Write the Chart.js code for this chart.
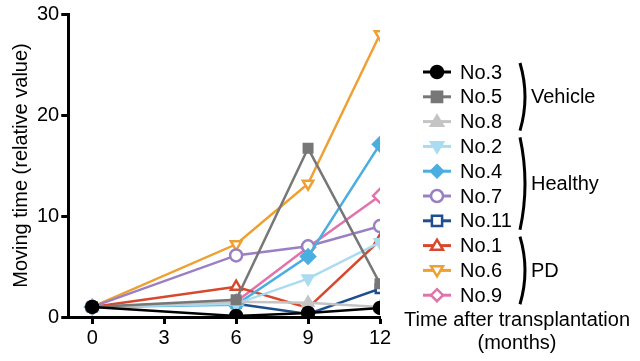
<!DOCTYPE html>
<html lang="en">
<head>
<meta charset="UTF-8">
<title>Moving time after transplantation</title>
<script src="https://cdn.jsdelivr.net/npm/chart.js"></script>
<style>
  html, body { margin: 0; padding: 0; background: #fff; }
  .chart-container { position: relative; width: 640px; height: 361px; }
</style>
</head>
<body>
<div class="chart-container"><canvas id="movingChart"></canvas></div>
<script>
// months after transplantation
const months = [0, 6, 9, 12];
const xTicks = [0, 3, 6, 9, 12];
const yTicks = [0, 10, 20, 30];

// moving time (relative value), one array per animal
const no3  = [1.0, 0.1, 0.4, 0.9];
const no5  = [1.0, 1.7, 16.7, 3.3];
const no8  = [1.0, 1.5, 1.4, 1.0];
const no2  = [1.0, 1.3, 3.8, 7.4];
const no4  = [1.0, 1.2, 6.0, 17.1];
const no7  = [1.0, 6.1, 7.0, 9.0];
const no11 = [1.0, 1.3, 0.3, 2.8];
const no1  = [1.0, 3.0, 0.9, 7.6];
const no6  = [1.0, 7.2, 13.2, 28.0];
const no9  = [1.0, 1.5, 6.9, 12.0];

const names  = ['No.3', 'No.5', 'No.8', 'No.2', 'No.4', 'No.7', 'No.11', 'No.1', 'No.6', 'No.9'];
const series = [no3, no5, no8, no2, no4, no7, no11, no1, no6, no9];
const colors = ['#000000', '#777777', '#c4c4c4', '#a9dcf0', '#4aaee0', '#9a80c2', '#1f4e8c', '#d8482c', '#efa032', '#e072ac'];
const shapes = ['circle', 'rect', 'triangle', 'triangleDown', 'diamond', 'circle', 'rect', 'triangle', 'triangleDown', 'diamond'];
const hollow = [false, false, false, false, false, true, true, true, true, true];

const groups = [
  { label: 'Vehicle', from: 0, to: 2 },
  { label: 'Healthy', from: 3, to: 6 },
  { label: 'PD', from: 7, to: 9 }
];

const FONT = "'Liberation Sans', Arial, sans-serif";

function styleOf(shape) {
  if (shape === 'triangleDown') return { pointStyle: 'triangle', rotation: 180 };
  if (shape === 'diamond') return { pointStyle: 'rectRot', rotation: 0 };
  return { pointStyle: shape, rotation: 0 };
}

const datasets = series.map((vals, i) => {
  const s = styleOf(shapes[i]);
  return {
    label: names[i],
    data: vals.map((v, k) => ({ x: months[k], y: v })),
    borderColor: colors[i],
    backgroundColor: colors[i],
    borderWidth: 2.5,
    pointStyle: s.pointStyle,
    rotation: s.rotation,
    pointRadius: shapes[i] === 'diamond' ? 7 : 6,
    pointBorderWidth: 2.5,
    pointBackgroundColor: hollow[i] ? '#ffffff' : colors[i],
    pointBorderColor: colors[i],
    tension: 0
  };
});

// draw a legend marker by hand
function drawMarker(ctx, shape, x, y, r, color, isHollow) {
  ctx.save();
  ctx.beginPath();
  if (shape === 'circle') {
    ctx.arc(x, y, r, 0, Math.PI * 2);
  } else if (shape === 'rect') {
    ctx.rect(x - r * 0.85, y - r * 0.85, r * 1.7, r * 1.7);
  } else if (shape === 'triangle') {
    ctx.moveTo(x, y - r);
    ctx.lineTo(x + r, y + r * 0.7);
    ctx.lineTo(x - r, y + r * 0.7);
    ctx.closePath();
  } else if (shape === 'triangleDown') {
    ctx.moveTo(x, y + r);
    ctx.lineTo(x + r, y - r * 0.7);
    ctx.lineTo(x - r, y - r * 0.7);
    ctx.closePath();
  } else if (shape === 'diamond') {
    ctx.moveTo(x, y - r);
    ctx.lineTo(x + r, y);
    ctx.lineTo(x, y + r);
    ctx.lineTo(x - r, y);
    ctx.closePath();
  }
  ctx.fillStyle = isHollow ? '#ffffff' : color;
  ctx.fill();
  ctx.lineWidth = 2.5;
  ctx.strokeStyle = color;
  ctx.stroke();
  ctx.restore();
}

const sideLegend = {
  id: 'sideLegend',
  afterDraw(chart) {
    const ctx = chart.ctx;
    const top = 72, step = 24.8;
    ctx.save();
    ctx.font = '20px ' + FONT;
    ctx.textBaseline = 'middle';
    ctx.fillStyle = '#000';
    names.forEach((name, i) => {
      const y = top + i * step;
      ctx.beginPath();
      ctx.moveTo(423, y);
      ctx.lineTo(451, y);
      ctx.lineWidth = 3;
      ctx.strokeStyle = colors[i];
      ctx.stroke();
      drawMarker(ctx, shapes[i], 437, y, 6, colors[i], hollow[i]);
      ctx.fillStyle = '#000';
      ctx.textAlign = 'left';
      ctx.fillText(name, 460, y + 1);
    });
    // brackets for the groups
    groups.forEach(g => {
      const y1 = top + g.from * step - 9;
      const y2 = top + g.to * step + 9;
      ctx.beginPath();
      ctx.moveTo(520, y1);
      ctx.quadraticCurveTo(530, (y1 + y2) / 2, 520, y2);
      ctx.lineWidth = 3;
      ctx.strokeStyle = '#000';
      ctx.stroke();
      ctx.textAlign = 'left';
      ctx.fillText(g.label, 531, (y1 + y2) / 2 + 1);
    });
    // x axis title, set to the right of the plot
    ctx.textAlign = 'center';
    ctx.fillText('Time after transplantation', 517, 320);
    ctx.fillText('(months)', 517, 343);
    ctx.restore();
  }
};

new Chart(document.getElementById('movingChart'), {
  type: 'line',
  data: { datasets: datasets },
  options: {
    responsive: true,
    maintainAspectRatio: false,
    animation: false,
    layout: { padding: { left: 7, right: 260, top: 11, bottom: 9 } },
    plugins: { legend: { display: false }, tooltip: { enabled: false } },
    scales: {
      x: {
        type: 'linear',
        min: -1,
        max: 12,
        afterBuildTicks: axis => { axis.ticks = xTicks.map(v => ({ value: v })); },
        border: { color: '#000', width: 3 },
        grid: { drawOnChartArea: false, drawTicks: true, tickLength: 7, tickWidth: 3, tickColor: '#000' },
        ticks: { color: '#000', padding: 2, font: { family: FONT, size: 20 } }
      },
      y: {
        min: 0,
        max: 30,
        afterBuildTicks: axis => { axis.ticks = yTicks.map(v => ({ value: v })); },
        border: { color: '#000', width: 3 },
        grid: { drawOnChartArea: false, drawTicks: true, tickLength: 7, tickWidth: 3, tickColor: '#000' },
        ticks: { color: '#000', padding: 2, font: { family: FONT, size: 20 } },
        title: { display: true, text: 'Moving time (relative value)', color: '#000', font: { family: FONT, size: 20 }, padding: 2 }
      }
    }
  },
  plugins: [sideLegend]
});
</script>
</body>
</html>
